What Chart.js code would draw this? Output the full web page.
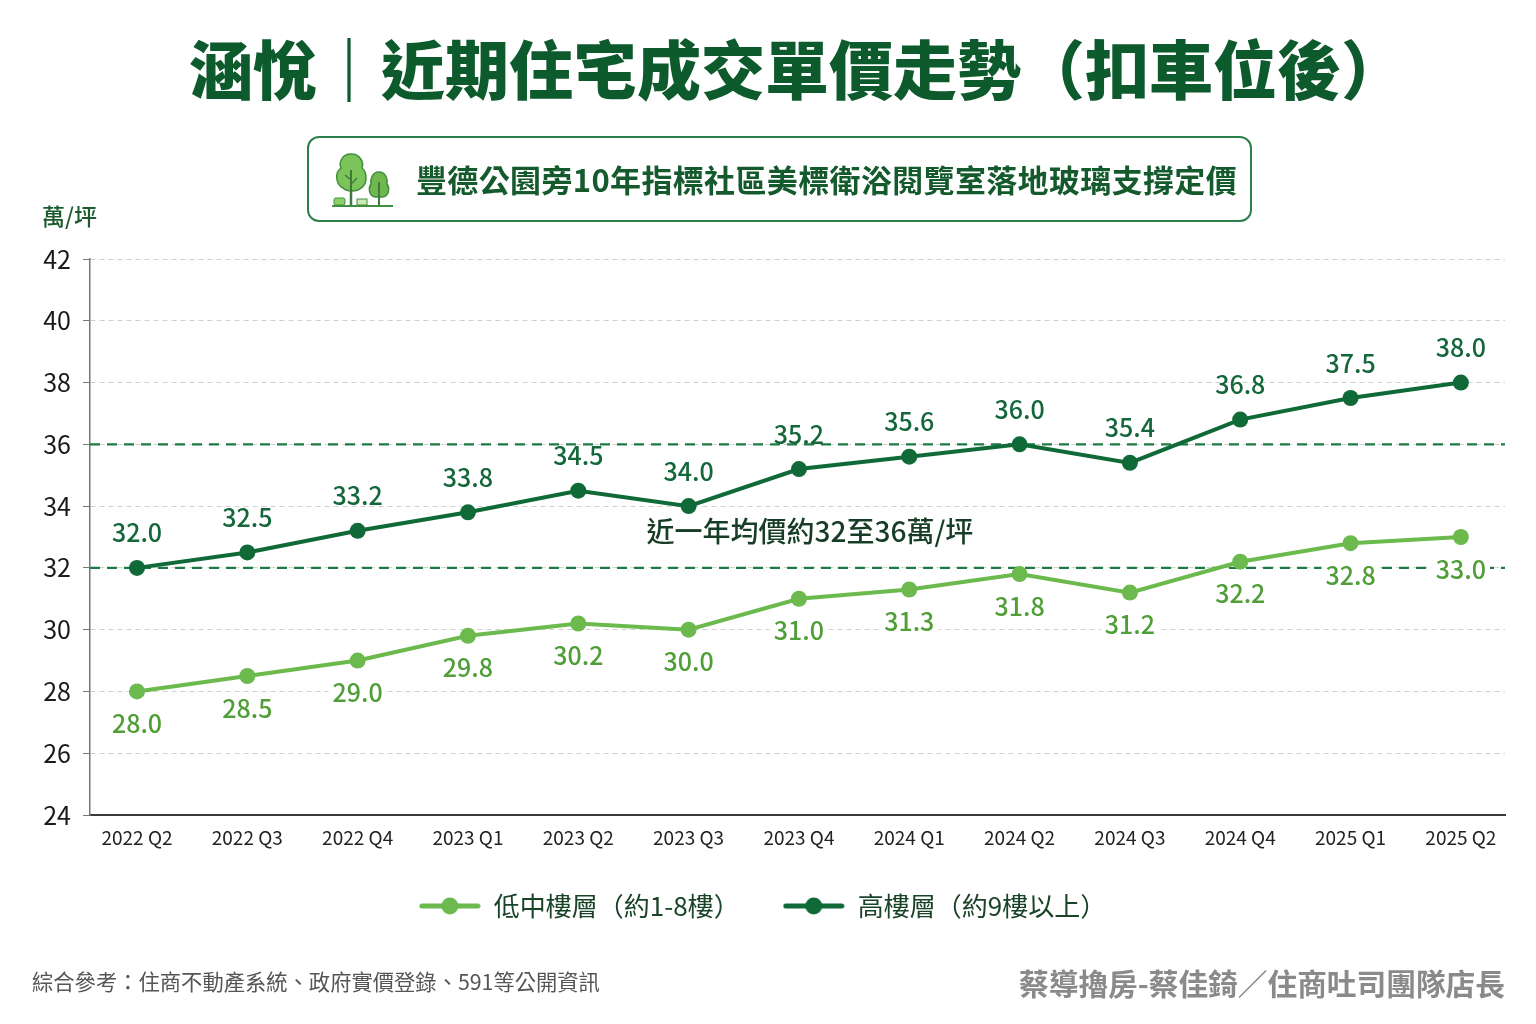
<!DOCTYPE html>
<html lang="zh-Hant">
<head>
<meta charset="utf-8">
<title>涵悅｜近期住宅成交單價走勢</title>
<script src="https://cdn.jsdelivr.net/npm/chart.js@4.4.1/dist/chart.umd.min.js"></script>
<style>
  html, body { margin: 0; padding: 0; background: #ffffff; }
  body { width: 1536px; height: 1024px; position: relative; overflow: hidden;
         font-family: "Noto Sans CJK TC", "Noto Sans", sans-serif; }
  #chart { position: absolute; left: 0; top: 0; }
  .title { position: absolute; left: 46px; top: 21px; width: 1502px; text-align: center;
           font-size: 64px; font-weight: 900; color: #0d5a2c; line-height: 90px; }
  .subbox { position: absolute; left: 307px; top: 136px; width: 941px; height: 82px;
            border: 2px solid #2f7f4c; border-radius: 12px; }
  .subbox svg { position: absolute; left: 22px; top: 12px; }
  .subbox .txt { position: absolute; left: 107px; top: 0; line-height: 82px; letter-spacing: 0.35px;
                 font-size: 31px; font-weight: 700; color: #145a2c; white-space: nowrap; }
  .unit { position: absolute; left: 42px; top: 198px; font-size: 23px; font-weight: 500; color: #1d5a2f; }
  .src { position: absolute; left: 32px; top: 965px; font-size: 21.3px; color: #555; }
  .sign { position: absolute; right: 31px; top: 961px; font-size: 29.7px; font-weight: 700; color: #8a8a8a; }
</style>
</head>
<body>
<canvas id="chart" width="1536" height="1024"></canvas>

<div class="title">涵悅｜近期住宅成交單價走勢（扣車位後）</div>
<div class="subbox">
  <svg width="64" height="60" viewBox="0 0 64 60">
    <line x1="20" y1="36" x2="20" y2="55" stroke="#3f7a3a" stroke-width="2.5"/>
    <path d="M20 4 C10 4 8 14 10 18 C4 22 4 34 12 38 C16 42 26 42 30 38 C37 34 36 22 31 18 C33 12 29 4 20 4 Z"
          fill="#7cc35a" stroke="#3f8f3c" stroke-width="1.5"/>
    <line x1="20" y1="20" x2="20" y2="50" stroke="#3f7a3a" stroke-width="2"/>
    <line x1="20" y1="30" x2="14" y2="25" stroke="#3f7a3a" stroke-width="1.5"/>
    <line x1="20" y1="34" x2="26" y2="28" stroke="#3f7a3a" stroke-width="1.5"/>
    <path d="M48 22 C41 22 39 30 40 34 C37 38 38 46 44 47 L52 47 C58 46 59 38 56 34 C57 30 55 22 48 22 Z"
          fill="#6fb84f" stroke="#3f8f3c" stroke-width="1.5"/>
    <line x1="48" y1="32" x2="48" y2="55" stroke="#3f7a3a" stroke-width="2"/>
    <rect x="3" y="48" width="11" height="7" rx="2" fill="#8fcf6a" stroke="#3f8f3c" stroke-width="1"/>
    <rect x="26" y="49" width="10" height="6" fill="#cfe8b8" stroke="#3f8f3c" stroke-width="1"/>
    <line x1="1" y1="56" x2="62" y2="56" stroke="#3f8f3c" stroke-width="2"/>
  </svg>
  <div class="txt">豐德公園旁10年指標社區美標衛浴閱覽室落地玻璃支撐定價</div>
</div>
<div class="unit">萬/坪</div>
<div class="src">綜合參考：住商不動產系統、政府實價登錄、591等公開資訊</div>
<div class="sign">蔡導擼房-蔡佳錡／住商吐司團隊店長</div>

<script>
// quarters on the x axis
const categories = ['2022 Q2', '2022 Q3', '2022 Q4', '2023 Q1', '2023 Q2', '2023 Q3', '2023 Q4',
                    '2024 Q1', '2024 Q2', '2024 Q3', '2024 Q4', '2025 Q1', '2025 Q2'];
// 低中樓層 (1-8F), 萬/坪
const lowValues = [28.0, 28.5, 29.0, 29.8, 30.2, 30.0, 31.0, 31.3, 31.8, 31.2, 32.2, 32.8, 33.0];
// 高樓層 (9F+), 萬/坪
const highValues = [32.0, 32.5, 33.2, 33.8, 34.5, 34.0, 35.2, 35.6, 36.0, 35.4, 36.8, 37.5, 38.0];
const yTicks = [24, 26, 28, 30, 32, 34, 36, 38, 40, 42];
// dashed range lines
const refLines = [32, 36];
const rangeNote = '近一年均價約32至36萬/坪';
const rangeNoteAt = [6.1, 33.17]; // x index, y value

const seriesNames = ['低中樓層（約1-8樓）', '高樓層（約9樓以上）'];
const lowColor = '#6cba4e';
const highColor = '#0f6a38';
const FONT = '"Noto Sans CJK TC", "Noto Sans", sans-serif';

function toPoints(values) {
    return values.map((v, i) => ({ x: i, y: v }));
}

// line-with-dot image for the legend
function legendIcon(color) {
    const c = document.createElement('canvas');
    c.width = 62; c.height = 20;
    const g = c.getContext('2d');
    g.strokeStyle = color;
    g.lineWidth = 5;
    g.lineCap = 'round';
    g.beginPath(); g.moveTo(3, 10); g.lineTo(59, 10); g.stroke();
    g.fillStyle = color;
    g.beginPath(); g.arc(31, 10, 8.5, 0, Math.PI * 2); g.fill();
    return c;
}

// draws the two dashed reference lines behind the series
const refLinePlugin = {
    id: 'refLines',
    beforeDatasetsDraw(chart) {
        const { ctx, chartArea, scales } = chart;
        ctx.save();
        ctx.strokeStyle = '#1e7a45';
        ctx.lineWidth = 2.2;
        ctx.setLineDash([10, 7]);
        refLines.forEach(v => {
            const y = scales.y.getPixelForValue(v);
            ctx.beginPath();
            ctx.moveTo(chartArea.left, y);
            ctx.lineTo(chartArea.right, y);
            ctx.stroke();
        });
        ctx.restore();
    }
};

// value labels + range note
const labelPlugin = {
    id: 'valueLabels',
    afterDatasetsDraw(chart) {
        const { ctx, scales } = chart;
        ctx.save();
        ctx.textAlign = 'center';
        ctx.textBaseline = 'middle';
        chart.data.datasets.forEach((ds, di) => {
            const meta = chart.getDatasetMeta(di);
            ctx.font = '500 25px ' + FONT;
            meta.data.forEach((pt, i) => {
                const txt = ds.data[i].y.toFixed(1);
                const y = pt.y + ds.labelOffset;
                if (ds.labelBox) {
                    const w = ctx.measureText(txt).width + 8;
                    ctx.fillStyle = '#ffffff';
                    ctx.fillRect(pt.x - w / 2, y - 11, w, 22);
                }
                ctx.fillStyle = ds.labelColor;
                ctx.fillText(txt, pt.x, y);
            });
        });
        ctx.fillStyle = '#173d26';
        ctx.font = '500 28px ' + FONT;
        ctx.fillText(rangeNote, scales.x.getPixelForValue(rangeNoteAt[0]), scales.y.getPixelForValue(rangeNoteAt[1]));
        ctx.restore();
    }
};

const ctx = document.getElementById('chart').getContext('2d');
new Chart(ctx, {
    type: 'line',
    data: {
        datasets: [
            {
                label: seriesNames[0],
                data: toPoints(lowValues),
                borderColor: lowColor,
                backgroundColor: lowColor,
                borderWidth: 4,
                pointRadius: 8,
                pointBorderWidth: 0,
                pointBackgroundColor: lowColor,
                labelColor: '#4f9e37',
                labelOffset: 32,
                labelBox: true
            },
            {
                label: seriesNames[1],
                data: toPoints(highValues),
                borderColor: highColor,
                backgroundColor: highColor,
                borderWidth: 4,
                pointRadius: 8,
                pointBorderWidth: 0,
                pointBackgroundColor: highColor,
                labelColor: '#14673a',
                labelOffset: -35,
                labelBox: false
            }
        ]
    },
    options: {
        responsive: false,
        animation: false,
        layout: { padding: { top: 259, left: 20, right: 31, bottom: 95 } },
        scales: {
            x: {
                type: 'linear',
                min: -0.426,
                max: 12.4,
                afterBuildTicks: scale => { scale.ticks = categories.map((c, i) => ({ value: i })); },
                afterFit: scale => { scale.height = 35; },
                grid: { display: false, drawTicks: false },
                border: { display: true, color: '#3a3a3a', width: 2 },
                ticks: {
                    autoSkip: false,
                    maxRotation: 0,
                    padding: 11,
                    color: '#222',
                    font: { family: FONT, size: 19 },
                    callback: v => categories[v]
                }
            },
            y: {
                min: 24,
                max: 42,
                afterBuildTicks: scale => { scale.ticks = yTicks.map(v => ({ value: v })); },
                afterFit: scale => { scale.width = 70; },
                grid: {
                    color: '#d0d0d0',
                    lineWidth: 1,
                    tickLength: 7,
                    tickColor: '#777',
                    tickBorderDash: []
                },
                border: { display: true, color: '#777', width: 1.5, dash: [5, 4] },
                ticks: {
                    padding: 12,
                    color: '#1a1a1a',
                    font: { family: FONT, size: 25 }
                }
            }
        },
        plugins: {
            legend: {
                position: 'bottom',
                labels: {
                    usePointStyle: true,
                    pointStyleWidth: 62,
                    padding: 43,
                    color: '#1a4428',
                    font: { family: FONT, size: 26 },
                    generateLabels: chart => {
                        const items = Chart.defaults.plugins.legend.labels.generateLabels(chart);
                        items.forEach((it, i) => {
                            it.pointStyle = legendIcon(i === 0 ? lowColor : highColor);
                        });
                        return items;
                    }
                }
            },
            tooltip: { enabled: false }
        }
    },
    plugins: [refLinePlugin, labelPlugin]
});
</script>
</body>
</html>
